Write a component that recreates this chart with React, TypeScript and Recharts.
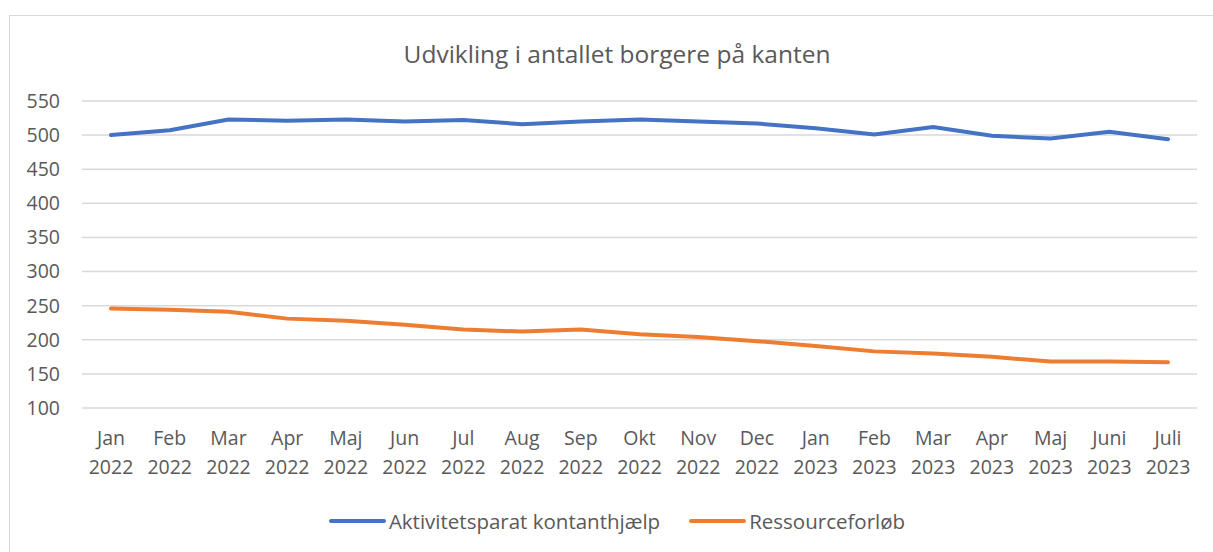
import { LineChart, Line, XAxis, YAxis, CartesianGrid } from "recharts"

const categories = [
    "Jan 2022", "Feb 2022", "Mar 2022", "Apr 2022", "Maj 2022", "Jun 2022", "Jul 2022",
    "Aug 2022", "Sep 2022", "Okt 2022", "Nov 2022", "Dec 2022", "Jan 2023", "Feb 2023",
    "Mar 2023", "Apr 2023", "Maj 2023", "Juni 2023", "Juli 2023",
]
const aktivitetsparat = [500, 507, 523, 521, 523, 520, 522, 516, 520, 523, 520, 517, 510, 501, 512, 499, 495, 505, 494]
const ressourceforloeb = [246, 244, 241, 231, 228, 222, 215, 212, 215, 208, 204, 198, 191, 183, 180, 175, 168, 168, 167]
const yTicks = [100, 150, 200, 250, 300, 350, 400, 450, 500, 550]

const seriesNames = ["Aktivitetsparat kontanthjælp", "Ressourceforløb"]
const seriesColors = ["#4472C4", "#ED7D31"]

const data = categories.map((c, i) => ({
    name: c,
    a: aktivitetsparat[i],
    r: ressourceforloeb[i],
}))

const FONT = "'Open Sans', sans-serif"
const TEXT = "#595959"

// two-line month / year label
const CategoryTick = (props: any) => {
    const { x, y, payload } = props
    const [month, year] = String(payload.value).split(" ")
    return (
        <text x={x} y={y} textAnchor="middle" fill={TEXT} fontSize={19.5} fontFamily={FONT}>
            <tspan x={x} y={y + 23}>{month}</tspan>
            <tspan x={x} y={y + 52}>{year}</tspan>
        </text>
    )
}

export default function App() {
    return (
        <div style={{ position: "absolute", left: 0, top: 0, width: 1213, height: 552, background: "#fff", overflow: "hidden", fontFamily: FONT }}>
            <div style={{ position: "absolute", left: 9, top: 15, width: 1215, height: 560, border: "1px solid #d9d9d9", boxSizing: "border-box" }} />
            <div style={{ position: "absolute", left: 0, top: 37, width: 1234, textAlign: "center", fontSize: 24.5, color: TEXT }}>
                Udvikling i antallet borgere på kanten
            </div>
            <LineChart
                width={1213}
                height={552}
                data={data}
                margin={{ top: 101, right: 16, left: 0, bottom: 0 }}
            >
                <CartesianGrid vertical={false} stroke="#d9d9d9" strokeWidth={1.5} />
                <XAxis
                    dataKey="name"
                    interval={0}
                    axisLine={false}
                    tickLine={false}
                    tickSize={0}
                    tickMargin={14}
                    height={144}
                    padding={{ left: 29, right: 29 }}
                    tick={<CategoryTick />}
                />
                <YAxis
                    domain={[100, 550]}
                    ticks={yTicks}
                    interval={0}
                    axisLine={false}
                    tickLine={false}
                    tickMargin={16}
                    width={82}
                    tick={{ fill: TEXT, fontSize: 19.5, fontFamily: FONT }}
                />
                <Line dataKey="a" name={seriesNames[0]} stroke={seriesColors[0]} strokeWidth={4} dot={false} strokeLinecap="round" isAnimationActive={false} />
                <Line dataKey="r" name={seriesNames[1]} stroke={seriesColors[1]} strokeWidth={4} dot={false} strokeLinecap="round" isAnimationActive={false} />
            </LineChart>
            <div style={{ position: "absolute", left: 0, top: 507, width: 1234, display: "flex", justifyContent: "center", gap: 29, fontSize: 20.5, color: TEXT }}>
                {seriesNames.map((n, i) => (
                    <div key={n} style={{ display: "flex", alignItems: "center" }}>
                        <span style={{ display: "inline-block", width: 57, height: 4, borderRadius: 2, background: seriesColors[i], marginRight: 3 }} />
                        {n}
                    </div>
                ))}
            </div>
        </div>
    )
}
